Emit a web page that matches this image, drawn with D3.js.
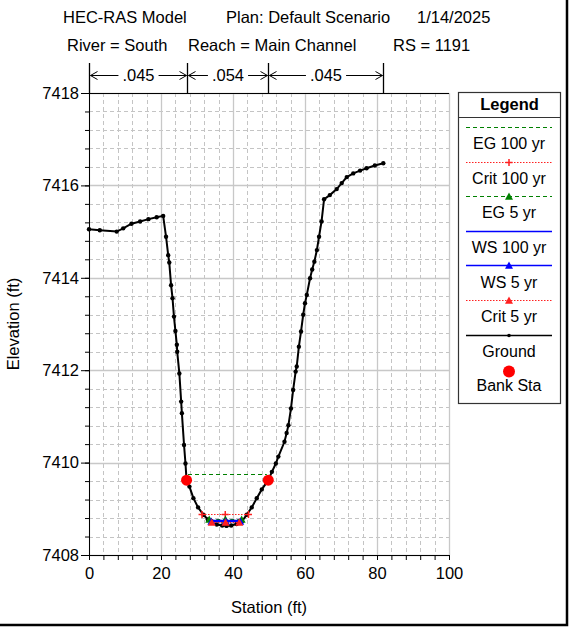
<!DOCTYPE html>
<html><head><meta charset="utf-8">
<script src="https://cdn.jsdelivr.net/npm/d3@7"></script>
<style>body{margin:0;background:#fff;} text{font-family:Arial,"Liberation Sans",sans-serif;fill:#000;}</style>
</head><body><svg id="c" width="571" height="629"></svg>
<script>
// ---- data ----
const groundStation = [0, 3.0, 7.7, 9.5, 11.8, 14.2, 16.5, 18.8, 20.6, 21.4, 22.0, 22.3, 22.8, 23.2, 23.6, 24.0, 24.4, 24.5, 25.1, 25.6, 25.8, 26.4, 26.8, 27.1, 27.9, 29.0, 30.3, 31.8, 33.0, 34.1, 35.5, 37.0, 38.2, 39.5, 41.0, 42.5, 43.8, 45.2, 46.6, 48.0, 49.8, 50.8, 51.9, 52.6, 54.3, 54.9, 55.4, 56.1, 56.7, 57.4, 57.7, 58.3, 58.9, 59.5, 60.0, 60.5, 61.4, 62.0, 62.6, 63.3, 63.9, 64.6, 65.3, 66.9, 68.8, 70.2, 71.6, 73.4, 75.3, 77.1, 79.4, 81.75];
const groundElev = [7415.05, 7415.03, 7415.0, 7415.07, 7415.17, 7415.22, 7415.27, 7415.31, 7415.34, 7414.89, 7414.49, 7414.33, 7413.84, 7413.56, 7413.16, 7412.85, 7412.55, 7412.40, 7411.93, 7411.32, 7411.07, 7410.38, 7409.98, 7409.62, 7409.48, 7409.23, 7409.03, 7408.87, 7408.77, 7408.70, 7408.66, 7408.64, 7408.63, 7408.64, 7408.67, 7408.73, 7408.87, 7409.03, 7409.23, 7409.42, 7409.62, 7409.80, 7409.98, 7410.13, 7410.45, 7410.64, 7410.81, 7411.17, 7411.57, 7411.97, 7412.08, 7412.51, 7412.84, 7413.20, 7413.45, 7413.63, 7413.99, 7414.18, 7414.35, 7414.60, 7414.89, 7415.22, 7415.70, 7415.79, 7415.92, 7416.05, 7416.18, 7416.26, 7416.32, 7416.37, 7416.43, 7416.48];
const bankStations = [27.1, 49.8];
const bankElev = [7409.62, 7409.62];
const profileNames = ["EG 100 yr", "Crit 100 yr", "EG 5 yr", "WS 100 yr", "WS 5 yr", "Crit 5 yr"];
const profileElev = [7409.76, 7408.88, 7408.79, 7408.76, 7408.74, 7408.72];
const profileLeft = [27.5, 31.4, 33.4, 34.0, 34.0, 34.1];
const profileRight = [49.4, 44.3, 42.4, 42.0, 42.0, 41.75];
const nValues = [".045", ".054", ".045"];
const nBreaks = [0, 27.1, 49.8, 81.75];
const xTicks = [0, 20, 40, 60, 80, 100];
const yTicks = [7408, 7410, 7412, 7414, 7416, 7418];
const titleLine1 = ["HEC-RAS Model", "Plan: Default Scenario", "1/14/2025"];
const titleLine2 = ["River = South", "Reach = Main Channel", "RS = 1191"];

// ---- styles ----
const styles = [
  {color: "#008000", dash: "4,3", width: 1, marker: null},
  {color: "#ff2020", dash: "1.5,1.5", width: 1, marker: "plus"},
  {color: "#008000", dash: "4,3", width: 1, marker: "tri"},
  {color: "#0000ff", dash: null, width: 1.5, marker: null},
  {color: "#0000ff", dash: null, width: 1.5, marker: "tri"},
  {color: "#ff2020", dash: "1.5,1.5", width: 1, marker: "tri"}
];

const svg = d3.select("#c");
const L = 89, R = 449, T = 93, B = 555;
const x = d3.scaleLinear().domain([0, 100]).range([L, R]);
const y = d3.scaleLinear().domain([7408, 7418]).range([B, T]);
const px = v => Math.round(v) + 0.5;

// grid
const g = svg.append("g");
const xMinor = d3.range(0, 100.01, 4);
const yMinor = d3.range(7408, 7418.01, 0.4);
g.selectAll(".vm").data(xMinor.filter(v => v % 20 !== 0)).join("line")
  .attr("x1", d => px(x(d))).attr("x2", d => px(x(d))).attr("y1", T).attr("y2", B)
  .attr("stroke", "#c4c4c4").attr("stroke-dasharray", "4,3");
g.selectAll(".hm").data(yMinor.filter(v => Math.abs(((v - 7408) / 2) - Math.round((v - 7408) / 2)) > 0.01)).join("line")
  .attr("x1", L).attr("x2", R).attr("y1", d => px(y(d))).attr("y2", d => px(y(d)))
  .attr("stroke", "#c4c4c4").attr("stroke-dasharray", "4,3");
g.selectAll(".vM").data(xTicks).join("line")
  .attr("x1", d => px(x(d))).attr("x2", d => px(x(d))).attr("y1", T).attr("y2", B)
  .attr("stroke", "#c8c8c8").attr("stroke-width", 1.3);
g.selectAll(".hM").data(yTicks).join("line")
  .attr("x1", L).attr("x2", R).attr("y1", d => px(y(d))).attr("y2", d => px(y(d)))
  .attr("stroke", "#c8c8c8").attr("stroke-width", 1.3);

// axes
const xAxis = d3.axisBottom(x).tickValues(xMinor).tickSize(5).tickFormat(d => xTicks.includes(d) ? d : "");
const gx = svg.append("g").attr("transform", `translate(0,${B})`).call(xAxis);
gx.selectAll("text").attr("font-size", "16.5px").attr("dy", "0.95em");
gx.selectAll(".tick line").attr("stroke", "#000");
gx.select(".domain").attr("stroke", "#000").attr("d", `M${L},0.5H${R}`);
const yAxis = d3.axisLeft(y).tickValues(yMinor).tickSize(4).tickFormat("");
svg.append("g").attr("transform", `translate(${L},0)`).call(yAxis)
  .call(s => s.select(".domain").remove());
const yAxisM = d3.axisLeft(y).tickValues(yTicks).tickSize(8).tickPadding(2).tickFormat(d3.format("d"));
const gy = svg.append("g").attr("transform", `translate(${L},0)`).call(yAxisM);
gy.selectAll("text").attr("font-size", "16.5px");
gy.select(".domain").attr("stroke", "#000").attr("d", `M0.5,${T}V${B}`);
svg.append("line").attr("x1", L).attr("x2", R).attr("y1", T + 0.5).attr("y2", T + 0.5).attr("stroke", "#000");

// manning n
const nb = svg.append("g");
nb.selectAll("line").data(nBreaks).join("line")
  .attr("x1", d => px(x(d))).attr("x2", d => px(x(d))).attr("y1", 63).attr("y2", T).attr("stroke", "#000").attr("stroke-width", 1.3);
const ay = 75.5;
nValues.forEach((v, i) => {
  const a = px(x(nBreaks[i])), b = px(x(nBreaks[i + 1])), m = (a + b) / 2;
  const t = nb.append("text").attr("x", m).attr("y", ay).attr("dy", "0.35em").attr("text-anchor", "middle").attr("font-size", "16.5px").text(v);
  const w = t.node().getComputedTextLength();
  nb.append("path").attr("fill", "none").attr("stroke", "#000").attr("stroke-width", 1)
    .attr("d", `M${a + 1},${ay}H${m - w / 2 - 4}M${m + w / 2 + 4},${ay}H${b - 1}M${a + 8},${ay - 4}L${a + 1},${ay}L${a + 8},${ay + 4}M${b - 8},${ay - 4}L${b - 1},${ay}L${b - 8},${ay + 4}`);
});

// titles
const t1x = [63, 226, 417], t2x = [67, 188, 393];
titleLine1.forEach((s, i) => svg.append("text").attr("x", t1x[i]).attr("y", 23).attr("font-size", "16.5px").text(s));
titleLine2.forEach((s, i) => svg.append("text").attr("x", t2x[i]).attr("y", 51).attr("font-size", "16.5px").text(s));

// axis labels
svg.append("text").attr("x", 269).attr("y", 613).attr("text-anchor", "middle").attr("font-size", "16.5px").text("Station (ft)");
svg.append("text").attr("transform", "translate(19,324) rotate(-90)").attr("text-anchor", "middle").attr("font-size", "16.5px").text("Elevation (ft)");

// marker drawing
function marker(sel, type, cx, cy, color, s) {
  if (type === "plus") {
    sel.append("path").attr("d", `M${cx - s},${cy}H${cx + s}M${cx},${cy - s}V${cy + s}`).attr("stroke", color).attr("stroke-width", 1.5);
  } else if (type === "tri") {
    sel.append("path").attr("d", `M${cx},${cy - s}L${cx + s},${cy + s * 0.8}L${cx - s},${cy + s * 0.8}Z`).attr("fill", color);
  }
}

// ground
const ground = groundStation.map((s, i) => [s, groundElev[i]]);
const line = d3.line().x(d => x(d[0])).y(d => y(d[1]));
const plot = svg.append("g");
plot.append("path").datum(ground).attr("d", line).attr("fill", "none").attr("stroke", "#000").attr("stroke-width", 2);
plot.selectAll(".gp").data(ground).join("circle").attr("cx", d => x(d[0])).attr("cy", d => y(d[1])).attr("r", 2.2).attr("fill", "#000");

// profiles
profileNames.forEach((n, i) => {
  const st = styles[i];
  const yy = px(y(profileElev[i]));
  plot.append("line").attr("x1", x(profileLeft[i])).attr("x2", x(profileRight[i])).attr("y1", yy).attr("y2", yy)
    .attr("stroke", st.color).attr("stroke-width", st.width).attr("stroke-dasharray", st.dash);
  if (st.marker) {
    const mid = (profileLeft[i] + profileRight[i]) / 2;
    [profileLeft[i], mid, profileRight[i]].forEach(s => marker(plot, st.marker, x(s), yy, st.color, st.marker === "tri" ? 4 : 3.5));
  }
});

// banks
plot.selectAll(".bank").data(bankStations).join("circle")
  .attr("cx", d => x(d)).attr("cy", (d, i) => y(bankElev[i])).attr("r", 5.5).attr("fill", "#ff0000");

// legend
const lg = svg.append("g");
const lx0 = 458.5, lx1 = 560.5, ly0 = 92.5, ly1 = 403.5;
lg.append("rect").attr("x", lx0).attr("y", ly0).attr("width", lx1 - lx0).attr("height", ly1 - ly0).attr("fill", "#fff").attr("stroke", "#333").attr("stroke-width", 1.2);
lg.append("line").attr("x1", lx0).attr("x2", lx1).attr("y1", 117.5).attr("y2", 117.5).attr("stroke", "#333").attr("stroke-width", 1.2);
lg.append("text").attr("x", (lx0 + lx1) / 2).attr("y", 104.5).attr("dy", "0.35em").attr("text-anchor", "middle").attr("font-size", "16.5px").attr("font-weight", "bold").text("Legend");
const rowH = 34.6, lineY0 = 127, textY0 = 143.5, llx0 = 466, llx1 = 552, lcx = 509;
const legendItems = profileNames.map((n, i) => ({name: n, style: styles[i]}))
  .concat([{name: "Ground", style: {color: "#000", dash: null, width: 1.5, marker: "dot"}},
           {name: "Bank Sta", style: {color: "#ff0000", marker: "bank"}}]);
legendItems.forEach((it, i) => {
  const ly = px(lineY0 + i * rowH), ty = textY0 + i * rowH;
  const st = it.style;
  if (st.marker === "bank") {
    lg.append("circle").attr("cx", lcx).attr("cy", ly + 2).attr("r", 6).attr("fill", "#ff0000");
  } else {
    lg.append("line").attr("x1", llx0).attr("x2", llx1).attr("y1", ly).attr("y2", ly)
      .attr("stroke", st.color).attr("stroke-width", st.width).attr("stroke-dasharray", st.dash);
    if (st.marker === "dot") lg.append("circle").attr("cx", lcx).attr("cy", ly).attr("r", 1.8).attr("fill", "#000");
    else if (st.marker) marker(lg, st.marker, lcx, ly, st.color, st.marker === "tri" ? 4 : 3.5);
  }
  lg.append("text").attr("x", lcx).attr("y", ty).attr("dy", "0.35em").attr("text-anchor", "middle").attr("font-size", "16px").text(it.name);
});

// outer frame (right & bottom)
svg.append("path").attr("d", "M567,0V625H0").attr("fill", "none").attr("stroke", "#000").attr("stroke-width", 2.5);
</script></body></html>
